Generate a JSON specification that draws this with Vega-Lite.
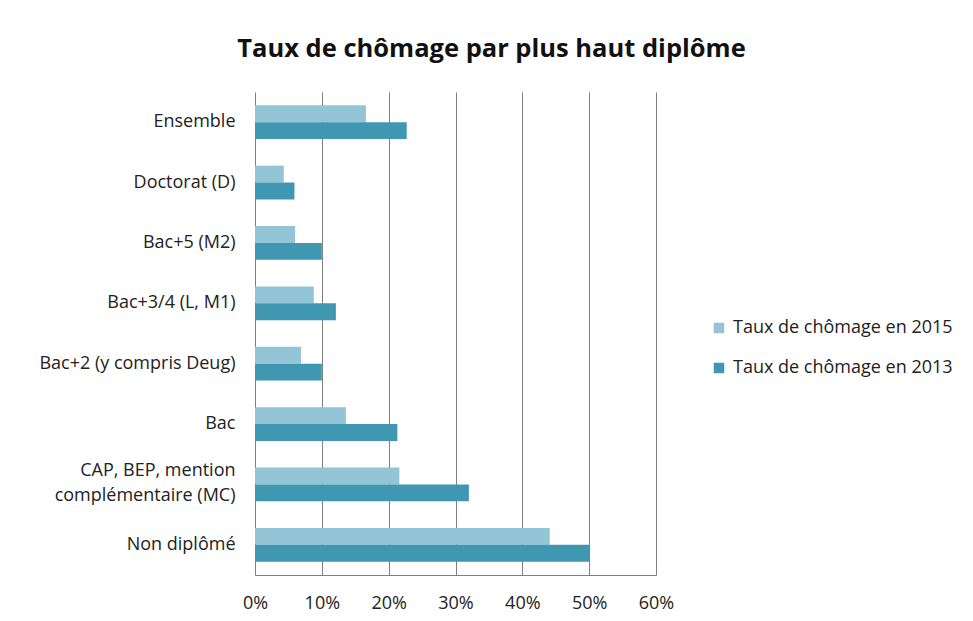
{
  "$schema": "https://vega.github.io/schema/vega-lite/v6.json",
  "autosize": {"type": "none"},
  "width": 401,
  "height": 483,
  "padding": {"left": 255, "top": 92, "right": 317, "bottom": 46},
  "background": "white",
  "title": {
    "text": "Taux de chômage par plus haut diplôme",
    "font": "Open Sans",
    "fontSize": 25.5,
    "fontWeight": "bold",
    "color": "#111111",
    "anchor": "middle",
    "dx": 36,
    "offset": 30
  },
  "data": {
    "values": [
      {"diplome": "Ensemble", "serie": "Taux de chômage en 2015", "taux": 0.166},
      {"diplome": "Ensemble", "serie": "Taux de chômage en 2013", "taux": 0.227},
      {"diplome": "Doctorat (D)", "serie": "Taux de chômage en 2015", "taux": 0.043},
      {"diplome": "Doctorat (D)", "serie": "Taux de chômage en 2013", "taux": 0.059},
      {"diplome": "Bac+5 (M2)", "serie": "Taux de chômage en 2015", "taux": 0.060},
      {"diplome": "Bac+5 (M2)", "serie": "Taux de chômage en 2013", "taux": 0.100},
      {"diplome": "Bac+3/4 (L, M1)", "serie": "Taux de chômage en 2015", "taux": 0.088},
      {"diplome": "Bac+3/4 (L, M1)", "serie": "Taux de chômage en 2013", "taux": 0.121},
      {"diplome": "Bac+2 (y compris Deug)", "serie": "Taux de chômage en 2015", "taux": 0.069},
      {"diplome": "Bac+2 (y compris Deug)", "serie": "Taux de chômage en 2013", "taux": 0.100},
      {"diplome": "Bac", "serie": "Taux de chômage en 2015", "taux": 0.136},
      {"diplome": "Bac", "serie": "Taux de chômage en 2013", "taux": 0.213},
      {"diplome": "CAP, BEP, mention|complémentaire (MC)", "serie": "Taux de chômage en 2015", "taux": 0.216},
      {"diplome": "CAP, BEP, mention|complémentaire (MC)", "serie": "Taux de chômage en 2013", "taux": 0.320},
      {"diplome": "Non diplômé", "serie": "Taux de chômage en 2015", "taux": 0.441},
      {"diplome": "Non diplômé", "serie": "Taux de chômage en 2013", "taux": 0.500}
    ]
  },
  "mark": {"type": "bar"},
  "encoding": {
    "y": {
      "field": "diplome",
      "type": "nominal",
      "sort": ["Ensemble", "Doctorat (D)", "Bac+5 (M2)", "Bac+3/4 (L, M1)", "Bac+2 (y compris Deug)", "Bac", "CAP, BEP, mention|complémentaire (MC)", "Non diplômé"],
      "scale": {"paddingInner": 0.44, "paddingOuter": 0.22},
      "axis": {
        "title": null,
        "domain": false,
        "ticks": false,
        "labelPadding": 20,
        "labelFont": "Open Sans",
        "labelFontSize": 18,
        "labelLineHeight": 25,
        "labelColor": "#222222",
        "labelLimit": 300,
        "labelOffset": {"condition": {"test": "indexof(datum.value, '|') >= 0", "value": -13}, "value": 0},
        "labelExpr": "split(datum.label, '|')"
      }
    },
    "yOffset": {
      "field": "serie",
      "type": "nominal",
      "sort": ["Taux de chômage en 2015", "Taux de chômage en 2013"],
      "scale": {"paddingInner": 0}
    },
    "x": {
      "field": "taux",
      "type": "quantitative",
      "scale": {"domain": [0, 0.6], "nice": false},
      "axis": {
        "title": null,
        "format": ".0%",
        "values": [0, 0.1, 0.2, 0.3, 0.4, 0.5, 0.6],
        "grid": true,
        "gridColor": "#7f7f7f",
        "gridWidth": 1,
        "domain": true,
        "domainColor": "#7f7f7f",
        "ticks": false,
        "labelPadding": 19,
        "labelFont": "Open Sans",
        "labelFontSize": 18,
        "labelColor": "#222222",
        "labelFlush": false
      }
    },
    "color": {
      "field": "serie",
      "type": "nominal",
      "scale": {
        "domain": ["Taux de chômage en 2015", "Taux de chômage en 2013"],
        "range": ["#93c5d6", "#3f97b1"]
      },
      "legend": {
        "title": null,
        "orient": "none",
        "legendX": 455,
        "legendY": 227,
        "symbolType": "square",
        "symbolSize": 110,
        "symbolStrokeWidth": 0,
        "labelFont": "Open Sans",
        "labelFontSize": 18,
        "labelColor": "#222222",
        "labelLimit": 400,
        "rowPadding": 22,
        "labelOffset": 5
      }
    }
  },
  "config": {
    "view": {"stroke": null}
  }
}
